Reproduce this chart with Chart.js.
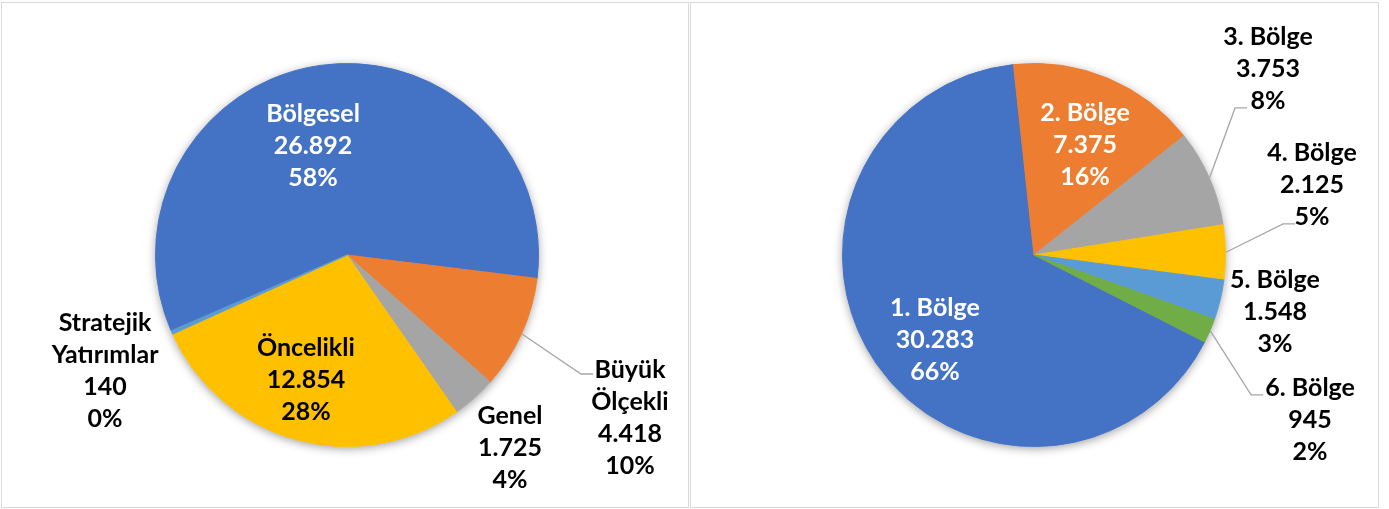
<!DOCTYPE html>
<html>
<head>
<meta charset="utf-8">
<script src="https://cdn.jsdelivr.net/npm/chart.js@4.4.1/dist/chart.umd.min.js"></script>
<style>
  html, body { margin: 0; padding: 0; background: #fff; }
  .box { position: absolute; box-sizing: border-box; border: 1px solid #d9d9d9; background: #fff; }
  #boxL { left: 1px; top: 2px; width: 688px; height: 506px; }
  #boxR { left: 690px; top: 2px; width: 689px; height: 506px; }
  canvas { display: block; }
</style>
</head>
<body>
<div class="box" id="boxL"><canvas id="cL" width="686" height="504"></canvas></div>
<div class="box" id="boxR"><canvas id="cR" width="687" height="504"></canvas></div>
<script>
// ---- Data (left chart) ----
const leftCategories = ["Bölgesel", "Büyük\nÖlçekli", "Genel", "Öncelikli", "Stratejik\nYatırımlar"];
const leftValues = [26892, 4418, 1725, 12854, 140];
const leftColors = ["#4472C4", "#ED7D31", "#A5A5A5", "#FFC000", "#5B9BD5"];

// ---- Data (right chart) ----
const rightCategories = ["1. Bölge", "2. Bölge", "3. Bölge", "4. Bölge", "5. Bölge", "6. Bölge"];
const rightValues = [30283, 7375, 3753, 2125, 1548, 945];
const rightColors = ["#4472C4", "#ED7D31", "#A5A5A5", "#FFC000", "#5B9BD5", "#70AD47"];

// ---- Label styling (placement relative to pie center, in radius units) ----
const leftLabelStyle = [
  { pos: [-0.177, -0.568], color: "#fff" },
  { pos: [1.474, 0.849], color: "#000", leader: [-37, -44] },
  { pos: [0.849, 1.005], color: "#000" },
  { pos: [-0.214, 0.651], color: "#000" },
  { pos: [-1.260, 0.604], color: "#000" }
];
const rightLabelStyle = [
  { pos: [-0.516, 0.443], color: "#fff" },
  { pos: [0.266, -0.573], color: "#fff" },
  { pos: [1.219, -0.969], color: "#000", leader: [-21, 39] },
  { pos: [1.448, -0.365], color: "#000", leader: [-17, 39] },
  { pos: [1.255, 0.297], color: "#000" },
  { pos: [1.438, 0.859], color: "#000", leader: [-47, -25] }
];

const FONT = "bold 25px Lato, 'Open Sans', sans-serif";
const LINE_H = 32;

function fmt(v) {
  return String(v).replace(/\B(?=(\d{3})+(?!\d))/g, ".");
}

const sliceLabels = {
  id: "sliceLabels",
  beforeDatasetsDraw(chart) {
    const meta = chart.getDatasetMeta(0);
    const a = meta.data[0];
    const { x, y, outerRadius } = a.getProps(["x", "y", "outerRadius"], true);
    const ctx = chart.ctx;
    ctx.save();
    ctx.beginPath();
    ctx.arc(x, y, outerRadius, 0, Math.PI * 2);
    ctx.fillStyle = "#fff";
    ctx.shadowColor = "rgba(0,0,0,0.38)";
    ctx.shadowBlur = 10;
    ctx.shadowOffsetY = 2;
    ctx.fill();
    ctx.restore();
  },
  afterDatasetsDraw(chart, args, opts) {
    const ctx = chart.ctx;
    const meta = chart.getDatasetMeta(0);
    const ds = chart.data.datasets[0].data;
    const labels = chart.data.labels;
    const total = ds.reduce((s, v) => s + v, 0);
    const styles = opts.styles;
    meta.data.forEach((arc, i) => {
      const p = arc.getProps(["x", "y", "startAngle", "endAngle", "outerRadius"], true);
      const R = p.outerRadius + 0.5;
      const st = styles[i];
      const cx = p.x + st.pos[0] * R;
      const cy = p.y + st.pos[1] * R;
      const lines = labels[i].split("\n").concat([fmt(ds[i]), Math.round(ds[i] / total * 100) + "%"]);
      if (st.leader) {
        const mid = (p.startAngle + p.endAngle) / 2;
        const sx = p.x + Math.cos(mid) * R;
        const sy = p.y + Math.sin(mid) * R;
        const ex = cx + st.leader[0];
        const ey = cy + st.leader[1];
        const elbowX = ex - 12;
        ctx.save();
        ctx.strokeStyle = "#A6A6A6";
        ctx.lineWidth = 1.3;
        ctx.beginPath();
        ctx.moveTo(sx, sy);
        ctx.lineTo(elbowX, ey);
        ctx.lineTo(ex, ey);
        ctx.stroke();
        ctx.restore();
      }
      ctx.save();
      ctx.font = FONT;
      ctx.fillStyle = st.color;
      ctx.textAlign = "center";
      ctx.textBaseline = "middle";
      const n = lines.length;
      lines.forEach((t, k) => {
        ctx.fillText(t, cx, cy + (k - (n - 1) / 2) * LINE_H);
      });
      ctx.restore();
    });
  }
};

function makePie(id, cats, vals, colors, rotation, padding, styles) {
  return new Chart(document.getElementById(id), {
    type: "pie",
    data: {
      labels: cats,
      datasets: [{
        data: vals,
        backgroundColor: colors,
        borderColor: colors,
        borderWidth: 1
      }]
    },
    options: {
      responsive: false,
      animation: false,
      devicePixelRatio: 1,
      rotation: rotation,
      layout: { padding: padding },
      plugins: {
        legend: { display: false },
        tooltip: { enabled: false },
        sliceLabels: { styles: styles }
      }
    },
    plugins: [sliceLabels]
  });
}

makePie("cL", leftCategories, leftValues, leftColors, 246.7,
  { left: 153, right: 149, top: 60, bottom: 60 }, leftLabelStyle);
makePie("cR", rightCategories, rightValues, rightColors, 117,
  { left: 151, right: 152, top: 60, bottom: 60 }, rightLabelStyle);
</script>
</body>
</html>
